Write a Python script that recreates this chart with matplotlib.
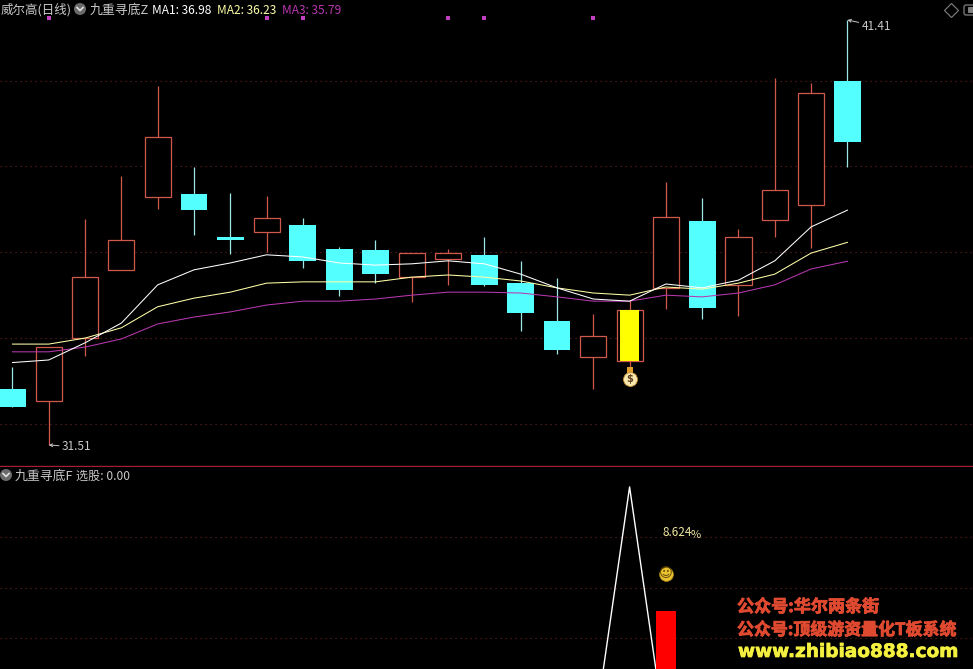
import matplotlib
matplotlib.use("Agg")
import matplotlib.pyplot as plt
import matplotlib.patheffects as pe
from matplotlib.patches import Circle, FancyBboxPatch

plt.rcParams["font.family"] = ["Noto Sans CJK SC", "DejaVu Sans"]

# price panel
OPENS = [32.81, 32.53, 34.00, 35.59, 37.29, 37.36, 36.36, 36.47, 36.63, 36.08, 36.05, 35.42,
         35.84, 35.94, 35.28, 34.40, 33.56, 33.47, 35.17, 36.73, 35.24, 36.75, 37.10, 39.99]
CLOSES = [32.40, 33.79, 35.42, 36.29, 38.68, 36.98, 36.29, 36.80, 35.80, 35.12, 35.49, 35.98,
          35.98, 35.24, 34.59, 33.72, 34.05, 34.66, 36.82, 34.70, 36.36, 37.45, 39.71, 38.57]
HIGHS = [33.33, 33.79, 36.77, 37.78, 39.87, 37.99, 37.38, 37.31, 36.80, 36.12, 36.29, 35.98,
         36.08, 36.36, 35.80, 35.40, 34.56, 34.89, 37.64, 37.26, 36.54, 40.06, 39.94, 41.41]
LOWS = [32.40, 31.51, 33.58, 35.61, 37.01, 36.40, 35.96, 36.01, 35.63, 34.98, 35.28, 34.84,
        35.24, 35.21, 34.17, 33.63, 32.81, 33.30, 34.68, 34.45, 34.52, 36.36, 36.10, 37.99]
MA1 = [33.43, 33.49, 33.89, 34.35, 35.24, 35.59, 35.75, 35.94, 35.89, 35.75, 35.70, 35.73,
       35.80, 35.73, 35.49, 35.17, 34.91, 34.86, 35.26, 35.17, 35.35, 35.80, 36.59, 36.98]
MA2 = [33.86, 33.86, 34.00, 34.24, 34.73, 34.93, 35.07, 35.28, 35.31, 35.31, 35.31, 35.42,
       35.47, 35.42, 35.33, 35.17, 35.05, 35.00, 35.19, 35.14, 35.28, 35.49, 35.98, 36.23]
MA3 = [33.68, 33.68, 33.79, 33.98, 34.33, 34.49, 34.61, 34.77, 34.86, 34.86, 34.91, 35.00,
       35.07, 35.07, 35.05, 34.96, 34.86, 34.86, 35.00, 34.96, 35.05, 35.24, 35.61, 35.79]
PRICE_TICKS = [32, 34, 36, 38, 40]
DOT_INDEX = [1, 7, 8, 12, 13, 16]
DOT_PRICE = 41.46
BAG_INDEX = 17
BAG_PRICE = 33.05
BAG_NECK_PRICE = 33.26

# indicator panel
SIGNAL = [0, 0, 0, 0, 0, 0, 0, 0, 0, 0, 0, 0, 0, 0, 0, 0, 0, 1, 0, 0, 0, 0, 0, 0]
BAR_INDEX = 18
BAR_VALUE = 0.5075
SMILE_VALUE = 0.654
PCT_VALUE = 0.82
PCT_LABEL = "8.624"
IND_TICKS = [0.2, 0.4, 0.6, 0.8]

BG = "black"
RED = "#d0584c"
CYAN = "#54ffff"
WICK_CYAN = "#9fe6e6"
GRID = "#6e2424"
GREY = "#c8c8c8"
MA_COLORS = ["white", "#ffffa8", "#b838b0"]
WATER_RED = "#e04a30"
WATER_YELLOW = "#f4f040"


def setup_axes(ax, yticks):
    ax.set_facecolor(BG)
    ax.set_xlim(-0.344, 26.46)
    ax.set_xticks([])
    ax.set_yticks(yticks)
    ax.tick_params(length=0, labelleft=False)
    ax.grid(axis="y", color=GRID, linewidth=0.8, linestyle=(0, (1, 3.5)))
    ax.set_axisbelow(True)
    for spine in ax.spines.values():
        spine.set_visible(False)


def draw_candles(ax):
    for i in range(len(OPENS)):
        up = CLOSES[i] > OPENS[i]
        top = max(OPENS[i], CLOSES[i])
        bottom = min(OPENS[i], CLOSES[i])
        ax.vlines(i, LOWS[i], HIGHS[i], color=RED if up else WICK_CYAN, linewidth=0.9, zorder=2)
        if up:
            ax.bar(i, top - bottom, 0.72, bottom=bottom, facecolor=BG, edgecolor=RED, linewidth=0.9, zorder=3)
        else:
            ax.bar(i, top - bottom, 0.74, bottom=bottom, color=CYAN, linewidth=0, zorder=3)
    # the signal day is filled yellow inside its box
    ax.bar(BAG_INDEX, CLOSES[BAG_INDEX] - OPENS[BAG_INDEX], 0.53, bottom=OPENS[BAG_INDEX], color="#ffff00", linewidth=0, zorder=4)


def draw_icon(ax, x, y):
    ax.add_patch(Circle((x, y), 6, facecolor="#6a6a6a", edgecolor="none"))
    ax.plot([x - 3, x, x + 3], [y - 1.5, y + 1.5, y - 1.5], color="#e0e0e0", linewidth=1.2)


fig = plt.figure(figsize=(9.73, 6.69), dpi=100, facecolor=BG)
ax_price = fig.add_axes([0, 203 / 669, 1, 466 / 669])
ax_ind = fig.add_axes([0, 0, 1, 202 / 669])
setup_axes(ax_price, PRICE_TICKS)
setup_axes(ax_ind, IND_TICKS)
ax_price.set_ylim(31.02, 41.876)
ax_ind.set_ylim(0.277, 1.079)

ax_price.spines["bottom"].set_visible(True)
ax_price.spines["bottom"].set_color("#a02030")
ax_price.spines["bottom"].set_linewidth(1.0)

draw_candles(ax_price)
index = list(range(len(OPENS)))
for values, color in zip([MA3, MA2, MA1], MA_COLORS[::-1]):
    ax_price.plot(index, values, color=color, linewidth=0.75, zorder=5)

ax_price.plot(DOT_INDEX, [DOT_PRICE] * len(DOT_INDEX), linestyle="none", marker="s", markersize=2.4,
              color="#c040c0", markeredgewidth=0)

# money bag under the signal candle
ax_price.plot(BAG_INDEX, BAG_NECK_PRICE, marker="s", markersize=4.5, color="#e0a030", markeredgewidth=0, zorder=6)
ax_price.plot(BAG_INDEX, BAG_PRICE, marker="o", markersize=10, color="#f8e8b0", markeredgecolor="#c89030",
              markeredgewidth=0.6, zorder=6)
ax_price.text(BAG_INDEX, BAG_PRICE, "$", color="#604020", fontsize=7, fontweight="bold", ha="center",
              va="center", family="DejaVu Sans", zorder=7)

ax_price.annotate(f"{max(HIGHS):.2f}", xy=(HIGHS.index(max(HIGHS)), max(HIGHS)), xytext=(14, -6),
                  textcoords="offset pixels", color=GREY, fontsize=8.5, va="center",
                  arrowprops=dict(arrowstyle="->", color=GREY, linewidth=0.7, shrinkA=0, shrinkB=0, mutation_scale=5))
ax_price.annotate(f"{min(LOWS):.2f}", xy=(LOWS.index(min(LOWS)), min(LOWS)), xytext=(13, -2),
                  textcoords="offset pixels", color=GREY, fontsize=8.5, va="center",
                  arrowprops=dict(arrowstyle="->", color=GREY, linewidth=0.7, shrinkA=0, shrinkB=0, mutation_scale=5))

ax_ind.plot(index, SIGNAL, color="white", linewidth=1.0, zorder=3)
ax_ind.bar(BAR_INDEX, BAR_VALUE, 0.53, color="#ff0000", linewidth=0, zorder=4)

ax_ind.plot(BAR_INDEX, SMILE_VALUE, marker="o", markersize=10, color="#e8c030", markeredgecolor="#a08010",
            markeredgewidth=0.5, zorder=5)
ax_ind.text(BAR_INDEX, SMILE_VALUE, "\u263a", color="#5a4000", fontsize=9.5, ha="center", va="center",
            family="DejaVu Sans", zorder=6)
ax_ind.annotate(PCT_LABEL, xy=(BAR_INDEX, PCT_VALUE), xytext=(-3, 0), textcoords="offset pixels",
                color="#f0e8a0", fontsize=8.5, va="center")
ax_ind.annotate("%", xy=(BAR_INDEX, PCT_VALUE), xytext=(25, -3), textcoords="offset pixels",
                color="#f0e8a0", fontsize=8, va="center")

# header row, icons and watermark are placed in pixels
overlay = fig.add_axes([0, 0, 1, 1])
overlay.set_xlim(0, 973)
overlay.set_ylim(669, 0)
overlay.axis("off")
overlay.patch.set_alpha(0)

overlay.text(1, 10, "威尔高(日线)", color=GREY, fontsize=9, va="center")
draw_icon(overlay, 80, 9)
overlay.text(90, 10, "九重寻底Z", color=GREY, fontsize=9.3, va="center")
overlay.text(152, 10, "MA1: 36.98", color="white", fontsize=8.6, va="center")
overlay.text(217, 10, "MA2: 36.23", color=MA_COLORS[1], fontsize=8.6, va="center")
overlay.text(282, 10, "MA3: 35.79", color=MA_COLORS[2], fontsize=8.6, va="center")

draw_icon(overlay, 6, 475)
overlay.text(15, 476, "九重寻底F", color=GREY, fontsize=9.3, va="center")
overlay.text(76, 476, "选股: 0.00", color=GREY, fontsize=8.7, va="center")

overlay.plot(951, 9.5, marker="D", markersize=7, markerfacecolor="none", markeredgecolor="#808080", markeredgewidth=0.8)
overlay.add_patch(FancyBboxPatch((964, 5), 14, 10, boxstyle="round,pad=0,rounding_size=2",
                                 facecolor=BG, edgecolor="#808080", linewidth=0.9))
overlay.add_patch(FancyBboxPatch((968, 7), 10, 6, boxstyle="round,pad=0,rounding_size=1",
                                 facecolor="#808080", edgecolor="none"))

water_stroke = [pe.withStroke(linewidth=0.6, foreground=WATER_RED)]
overlay.text(737, 607, "公众号:华尔两条街", color=WATER_RED, fontsize=12.3, fontweight="bold", va="center",
             path_effects=water_stroke)
overlay.text(737, 630, "公众号:顶级游资量化T板系统", color=WATER_RED, fontsize=12.2, fontweight="bold", va="center",
             path_effects=water_stroke)
overlay.text(738, 652, "www.zhibiao888.com", color=WATER_YELLOW, fontsize=13.3, fontweight="bold", va="center",
             family="DejaVu Sans", path_effects=[pe.withStroke(linewidth=0.5, foreground=WATER_YELLOW)])

fig.savefig("out.png", dpi=100, facecolor=BG)
